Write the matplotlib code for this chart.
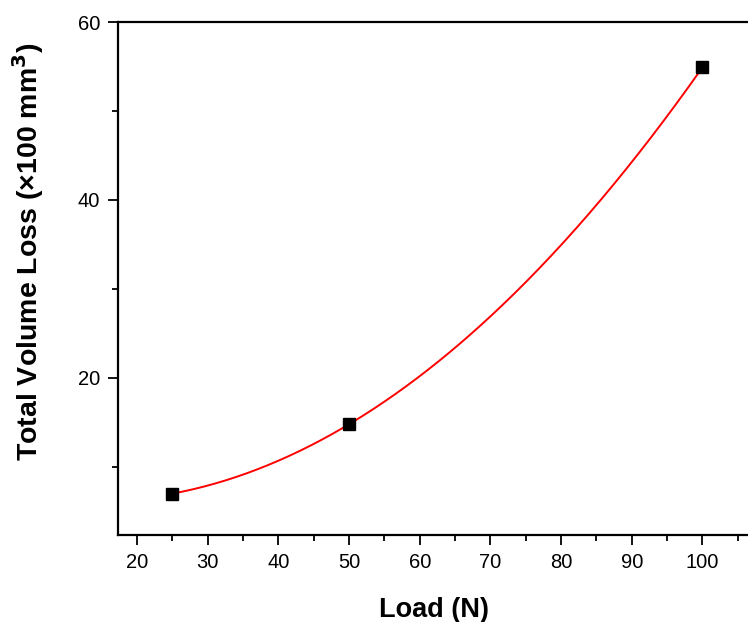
import numpy as np
import matplotlib
matplotlib.use("Agg")
import matplotlib.pyplot as plt

load = [25, 50, 100]
volume_loss = [7.0, 14.8, 54.9]

plt.rcParams['font.family'] = ['Liberation Sans', 'DejaVu Sans']

fig = plt.figure(figsize=(7.48, 6.22), dpi=100)
ax = fig.add_axes([118/748, 87/622, 641/748, 513/622])

coef = np.polyfit(load, volume_loss, 2)
xf = np.linspace(min(load), max(load), 300)
ax.plot(xf, np.polyval(coef, xf), color='red', lw=1.4, zorder=2)
ax.plot(load, volume_loss, 's', color='black', ms=8, zorder=3)

ax.set_xlim(17.3, 108)
ax.set_ylim(2.35, 60)
ax.set_xticks([20, 30, 40, 50, 60, 70, 80, 90, 100])
ax.set_xticks([25, 35, 45, 55, 65, 75, 85, 95, 105], minor=True)
ax.set_yticks([20, 40, 60])
ax.set_yticks([10, 30, 50], minor=True)
ax.tick_params(which='major', direction='out', length=7, width=1.3, labelsize=14.5, pad=6)
ax.tick_params(which='minor', direction='out', length=4, width=1.3)
for s in ax.spines.values():
    s.set_linewidth(1.6)

ax.set_xlabel('Load (N)', fontsize=19.5, fontweight='bold')
ax.xaxis.set_label_coords(0.493, -0.12)
ax.set_ylabel('Total Volume Loss (×100 mm$^\\mathbf{3}$)', fontsize=20.5, fontweight='bold')
ax.yaxis.set_label_coords(-0.112, 0.553)

fig.savefig('out.png', dpi=100)
